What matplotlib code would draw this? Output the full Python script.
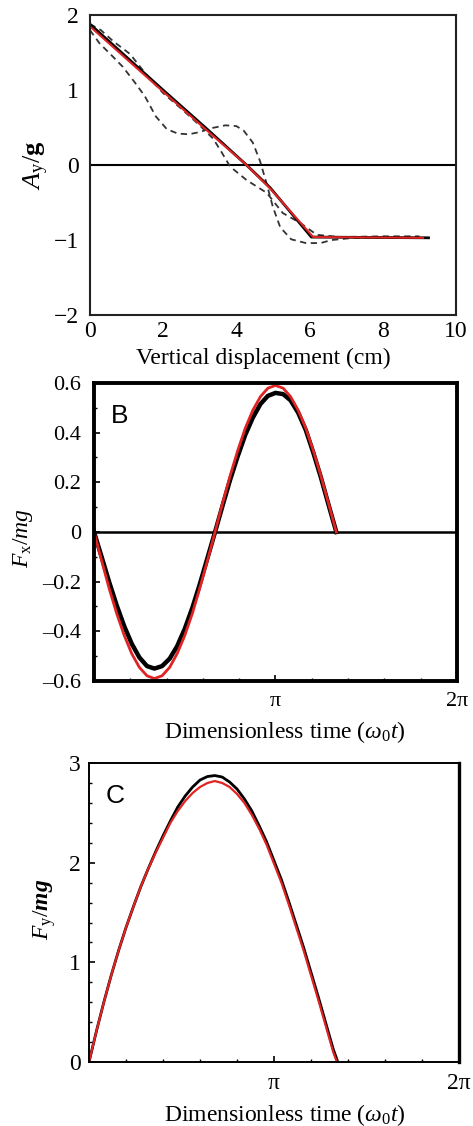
#Recreate three stacked panels: A_y/g vs displacement, F_x/mg and F_y/mg vs time
import numpy as np
import matplotlib
matplotlib.use("Agg")
import matplotlib.pyplot as plt
from matplotlib.ticker import MultipleLocator, FixedLocator, FixedFormatter

plt.rcParams['font.family'] = ['Liberation Serif', 'DejaVu Serif']
plt.rcParams['mathtext.fontset'] = 'custom'
plt.rcParams['mathtext.rm'] = 'Liberation Serif'
plt.rcParams['mathtext.it'] = 'Liberation Serif:italic'
plt.rcParams['mathtext.bf'] = 'Liberation Serif:bold'
plt.rcParams['mathtext.bfit'] = 'Liberation Serif:bold:italic'

RED = '#e02323'

#Panel A data (displacement in cm, A_y/g)
a_line_x = [0, 2.0, 3.2, 4.28, 4.92, 6.05, 9.25]
a_line_y = [1.88, 1.0, 0.48, 0.0, -0.3, -0.96, -0.97]
a_red_x = [0, 2.0, 3.2, 4.28, 4.92, 6.1, 9.1]
a_red_y = [1.85, 0.98, 0.46, 0.0, -0.31, -0.96, -0.97]
a_dash1_x = [0, 0.27, 0.6, 0.9, 1.2, 1.5, 1.8, 2.1, 2.4, 2.7, 3.0, 3.3, 3.7, 4.0, 4.2,
             4.45, 4.65, 4.83, 5.0, 5.2, 5.5, 5.9, 6.3, 6.6, 7.2, 8.8]
a_dash1_y = [1.8, 1.62, 1.46, 1.31, 1.12, 0.92, 0.65, 0.48, 0.42, 0.41, 0.44, 0.49, 0.53,
             0.52, 0.46, 0.3, 0.05, -0.25, -0.56, -0.83, -0.99, -1.04, -1.04, -1.0, -0.97, -0.97]
a_dash2_x = [0, 0.3, 0.64, 1.1, 1.55, 2.0, 2.5, 3.0, 3.37, 3.6, 3.83, 4.28, 4.83, 5.27,
             5.74, 6.2, 6.83, 8.0, 9.0]
a_dash2_y = [1.88, 1.8, 1.65, 1.48, 1.2, 0.96, 0.75, 0.53, 0.35, 0.17, -0.02, -0.2, -0.37,
             -0.64, -0.77, -0.93, -0.96, -0.95, -0.95]

#Panel B data (time in units of pi, F_x/mg)
b_t = [0, 0.042, 0.083, 0.125, 0.167, 0.208, 0.25, 0.292, 0.333, 0.375, 0.417, 0.458,
       0.5, 0.542, 0.583, 0.625, 0.667, 0.708, 0.75, 0.792, 0.833, 0.875, 0.917, 0.958,
       1.0, 1.042, 1.083, 1.125, 1.167, 1.208, 1.25, 1.292, 1.335]
b_red = [0, -0.115, -0.226, -0.328, -0.417, -0.49, -0.545, -0.579, -0.59, -0.579, -0.545,
         -0.49, -0.417, -0.328, -0.226, -0.115, 0, 0.115, 0.226, 0.328, 0.417, 0.49, 0.545,
         0.579, 0.59, 0.579, 0.545, 0.49, 0.417, 0.328, 0.226, 0.115, 0]
b_blk = [0, -0.1, -0.2, -0.295, -0.38, -0.45, -0.505, -0.54, -0.55, -0.54, -0.51, -0.46,
         -0.39, -0.305, -0.21, -0.105, 0, 0.105, 0.21, 0.305, 0.39, 0.46, 0.515, 0.548,
         0.56, 0.555, 0.53, 0.48, 0.41, 0.32, 0.22, 0.11, 0]

#Panel C data (time in units of pi, F_y/mg)
c_t = [0, 0.04, 0.08, 0.12, 0.16, 0.2, 0.24, 0.28, 0.32, 0.36, 0.4, 0.44, 0.48, 0.52,
       0.56, 0.6, 0.64, 0.68, 0.72, 0.76, 0.8, 0.84, 0.88, 0.92, 0.96, 1.0, 1.04, 1.08,
       1.12, 1.16, 1.2, 1.24, 1.28, 1.32, 1.34]
c_red = [0, 0.31, 0.6, 0.87, 1.12, 1.35, 1.56, 1.76, 1.94, 2.1, 2.25, 2.4, 2.52, 2.62,
         2.7, 2.76, 2.8, 2.82, 2.8, 2.76, 2.69, 2.6, 2.48, 2.34, 2.18, 1.99, 1.8, 1.58,
         1.35, 1.12, 0.87, 0.62, 0.36, 0.1, 0]
c_blk_t = [0, 0.04, 0.08, 0.12, 0.16, 0.2, 0.24, 0.28, 0.32, 0.36, 0.4, 0.44, 0.48, 0.52,
           0.56, 0.6, 0.64, 0.68, 0.72, 0.76, 0.8, 0.84, 0.88, 0.92, 0.96, 1.0, 1.04, 1.08,
           1.12, 1.16, 1.2, 1.24, 1.28, 1.32, 1.345]
c_blk = [0, 0.31, 0.6, 0.87, 1.12, 1.35, 1.56, 1.76, 1.94, 2.11, 2.27, 2.42, 2.56, 2.67,
         2.76, 2.83, 2.865, 2.875, 2.86, 2.81, 2.74, 2.64, 2.52, 2.37, 2.21, 2.02, 1.83,
         1.61, 1.38, 1.15, 0.9, 0.65, 0.39, 0.13, 0]

pi_ticks = [1, 2]
pi_labels = ['π', '2π']

fig = plt.figure(figsize=(4.73, 11.26), dpi=100)

#---- Panel A
ax1 = fig.add_axes([0.190, 0.7202, 0.774, 0.2664])
ax1.axhline(0, color='black', lw=1.5)
ax1.plot(a_dash1_x, a_dash1_y, color='#333333', lw=1.3, ls=(0, (3.5, 2.5)))
ax1.plot(a_dash2_x, a_dash2_y, color='#333333', lw=1.3, ls=(0, (3.5, 2.5)))
ax1.plot(a_line_x, a_line_y, color='black', lw=2.0)
ax1.plot(a_red_x, a_red_y, color=RED, lw=1.5)
ax1.set_xlim(0, 10)
ax1.set_ylim(-2, 2)
ax1.set_xticks([0, 2, 4, 6, 8, 10])
ax1.set_yticks([-2, -1, 0, 1, 2])
ax1.tick_params(length=0, labelsize=17)
ax1.tick_params(axis='y', pad=8)
ax1.tick_params(axis='x', pad=4)
for s in ax1.spines.values():
    s.set_linewidth(1.5)
    s.set_color('#222222')
ax1.text(0.473, -0.143, 'Vertical displacement (cm)', transform=ax1.transAxes,
         ha='center', va='center', fontsize=17)
ax1.text(-0.145, 0.5, r'$A_{\mathrm{y}}/\mathbf{g}$', transform=ax1.transAxes,
         ha='center', va='center', rotation=90, fontsize=19)

#---- Panel B
ax2 = fig.add_axes([0.1987, 0.3952, 0.7675, 0.2647])
ax2.axhline(0, color='black', lw=1.8)
ax2.plot(b_t, b_blk, color='black', lw=3.2)
ax2.plot(b_t, b_red, color=RED, lw=2.0)
ax2.set_xlim(0, 2)
ax2.set_ylim(-0.6, 0.6)
ax2.xaxis.set_major_locator(FixedLocator(pi_ticks))
ax2.xaxis.set_major_formatter(FixedFormatter(pi_labels))
ax2.xaxis.set_minor_locator(MultipleLocator(0.2))
ax2.yaxis.set_major_locator(MultipleLocator(0.2))
ax2.yaxis.set_minor_locator(MultipleLocator(0.1))
ax2.yaxis.set_major_formatter(plt.FuncFormatter(lambda v, p: '0' if abs(v) < 1e-9 else ('%.1f' % v).replace('-', '\u2013')))
ax2.tick_params(which='both', direction='in', labelsize=16)
ax2.tick_params(which='major', length=4, width=1.2)
ax2.tick_params(which='minor', length=2.5, width=1.0)
ax2.tick_params(axis='y', pad=9)
ax2.tick_params(axis='x', pad=8)
for s in ax2.spines.values():
    s.set_linewidth(2.8)
ax2.text(0.07, 0.89, 'B', transform=ax2.transAxes, ha='center', va='center',
         fontsize=19, family=['Liberation Sans', 'DejaVu Sans'])
ax2.text(0.526, -0.171, r'Dimensionless time ($\omega_0 t$)', transform=ax2.transAxes,
         ha='center', va='center', fontsize=17)
ax2.text(-0.196, 0.48, r'$F_{\mathrm{x}}/mg$', transform=ax2.transAxes,
         ha='center', va='center', rotation=90, fontsize=17)

#---- Panel C
ax3 = fig.add_axes([0.1882, 0.0568, 0.7822, 0.2655])
ax3.plot(c_blk_t, c_blk, color='black', lw=2.0)
ax3.plot(c_t, c_red, color=RED, lw=1.6)
ax3.set_xlim(0, 2)
ax3.set_ylim(0, 3)
ax3.xaxis.set_major_locator(FixedLocator(pi_ticks))
ax3.xaxis.set_major_formatter(FixedFormatter(pi_labels))
ax3.xaxis.set_minor_locator(MultipleLocator(0.2))
ax3.yaxis.set_major_locator(MultipleLocator(1))
ax3.yaxis.set_minor_locator(MultipleLocator(0.2))
ax3.tick_params(which='both', direction='in', labelsize=17)
ax3.tick_params(which='major', length=4, width=1.2)
ax3.tick_params(which='minor', length=2.5, width=1.0)
ax3.tick_params(axis='y', pad=6)
ax3.tick_params(axis='x', pad=8)
for s in ax3.spines.values():
    s.set_linewidth(1.4)
ax3.spines['right'].set_linewidth(2.4)
ax3.text(0.07, 0.89, 'C', transform=ax3.transAxes, ha='center', va='center',
         fontsize=19, family=['Liberation Sans', 'DejaVu Sans'])
ax3.text(0.53, -0.177, r'Dimensionless time ($\omega_0 t$)', transform=ax3.transAxes,
         ha='center', va='center', fontsize=17)
ax3.text(-0.119, 0.51, r'$F_{\mathrm{y}}/\mathbfit{mg}$', transform=ax3.transAxes,
         ha='center', va='center', rotation=90, fontsize=17)

fig.savefig('out.png', dpi=100)
